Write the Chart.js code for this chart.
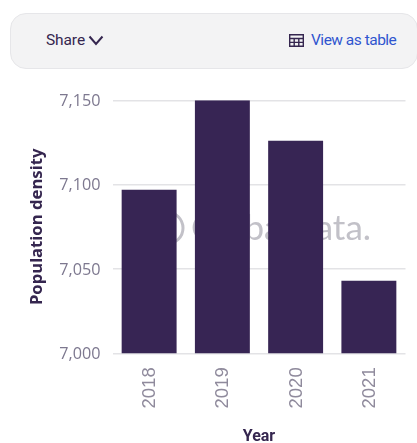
<!DOCTYPE html>
<html>
<head>
<meta charset="utf-8">
<script src="https://cdn.jsdelivr.net/npm/chart.js@4"></script>
<style>
  html, body { margin: 0; padding: 0; background: #fff; width: 417px; height: 443px; overflow: hidden; }
  body { position: relative; font-family: Roboto, sans-serif; }
  .toolbar {
    position: absolute; left: 10px; top: 13px; width: 408px; height: 56px; box-sizing: border-box;
    background: #f3f3f4; border: 1px solid #e6e6e9; border-radius: 16px;
  }
  .share { position: absolute; left: 35px; top: 17px; font-size: 15.5px; color: #35264f; letter-spacing: -0.1px; }
  .share svg { margin-left: -1px; vertical-align: -1px; }
  .table-link { position: absolute; left: 278px; top: 17px; font-size: 15.5px; color: #2f55cf; white-space: nowrap; letter-spacing: -0.5px; }
  .table-link svg { vertical-align: -2px; margin-right: 7px; }
  canvas { position: absolute; left: 0; top: 0; }
</style>
</head>
<body>
<div class="toolbar">
  <span class="share">Share <svg width="16" height="11" viewBox="0 0 16 11"><path d="M1.5 1.5 L8 9 L14.5 1.5" fill="none" stroke="#35264f" stroke-width="2"/></svg></span>
  <span class="table-link"><svg width="15" height="13" viewBox="0 0 15 13"><path d="M.7.7h13.6v11.6H.7zM.7 4.5h13.6M.7 8.4h13.6M5.2 4.5v7.8M9.8 4.5v7.8" fill="none" stroke="#35264f" stroke-width="1.4"/></svg>View as table</span>
</div>
<canvas id="densityChart" width="417" height="443"></canvas>
<script>
const years = ['2018', '2019', '2020', '2021'];
const densityValues = [7097, 7150, 7126, 7043];
const yTicks = [7000, 7050, 7100, 7150];

// faint company mark sitting behind the bars
const watermark = {
  id: 'watermark',
  beforeDatasetsDraw(chart) {
    const ctx = chart.ctx;
    ctx.save();
    ctx.fillStyle = '#c2c1c8';
    ctx.strokeStyle = '#c2c1c8';
    ctx.font = '35px Lato, sans-serif';
    ctx.textBaseline = 'middle';
    ctx.fillText('GlobalData.', 191, 229);
    ctx.lineWidth = 3;
    ctx.beginPath();
    ctx.arc(167, 228, 16, 0, Math.PI * 2);
    ctx.stroke();
    ctx.restore();
  },
};

const chart = new Chart('densityChart', {
  type: 'bar',
  data: {
    labels: years,
    datasets: [
      {
        label: 'Population density',
        data: densityValues,
        backgroundColor: '#372554',
        categoryPercentage: 1,
        barPercentage: 0.75,
      },
    ],
  },
  options: {
    responsive: false,
    animation: false,
    layout: { padding: { left: 27, right: 11.5, top: 100.3, bottom: 0 } },
    plugins: {
      legend: { display: false },
      tooltip: { enabled: false },
    },
    scales: {
      x: {
        grid: { display: false },
        border: { display: false },
        ticks: {
          color: '#8f8a9c',
          font: { family: 'Liberation Sans', size: 18.5 },
          minRotation: 90,
          maxRotation: 90,
          padding: 6,
          labelOffset: 1,
        },
        title: {
          display: true,
          text: 'Year',
          color: '#35264f',
          font: { family: 'Roboto', size: 16, weight: 'bold', lineHeight: 0.8 },
          padding: { top: 10, bottom: 0 },
        },
        afterFit(scale) { scale.height = 89.7; },
      },
      y: {
        min: 7000,
        max: 7150,
        afterBuildTicks(scale) { scale.ticks = yTicks.map(value => ({ value })); },
        grid: { color: '#e3e3e6', lineWidth: 1.5, drawTicks: false },
        border: { display: false },
        ticks: {
          color: '#7d788f',
          font: { family: 'Open Sans', size: 16.2 },
          padding: 12,
          labelOffset: 1,
          callback: value => value.toLocaleString('en-US'),
        },
        title: {
          display: true,
          text: 'Population density',
          color: '#35264f',
          font: { family: 'Noto Sans', size: 16.7, weight: 'bold' },
          padding: 0,
        },
        afterFit(scale) { scale.width = 85.5; },
      },
    },
  },
  plugins: [watermark],
});
</script>
</body>
</html>
